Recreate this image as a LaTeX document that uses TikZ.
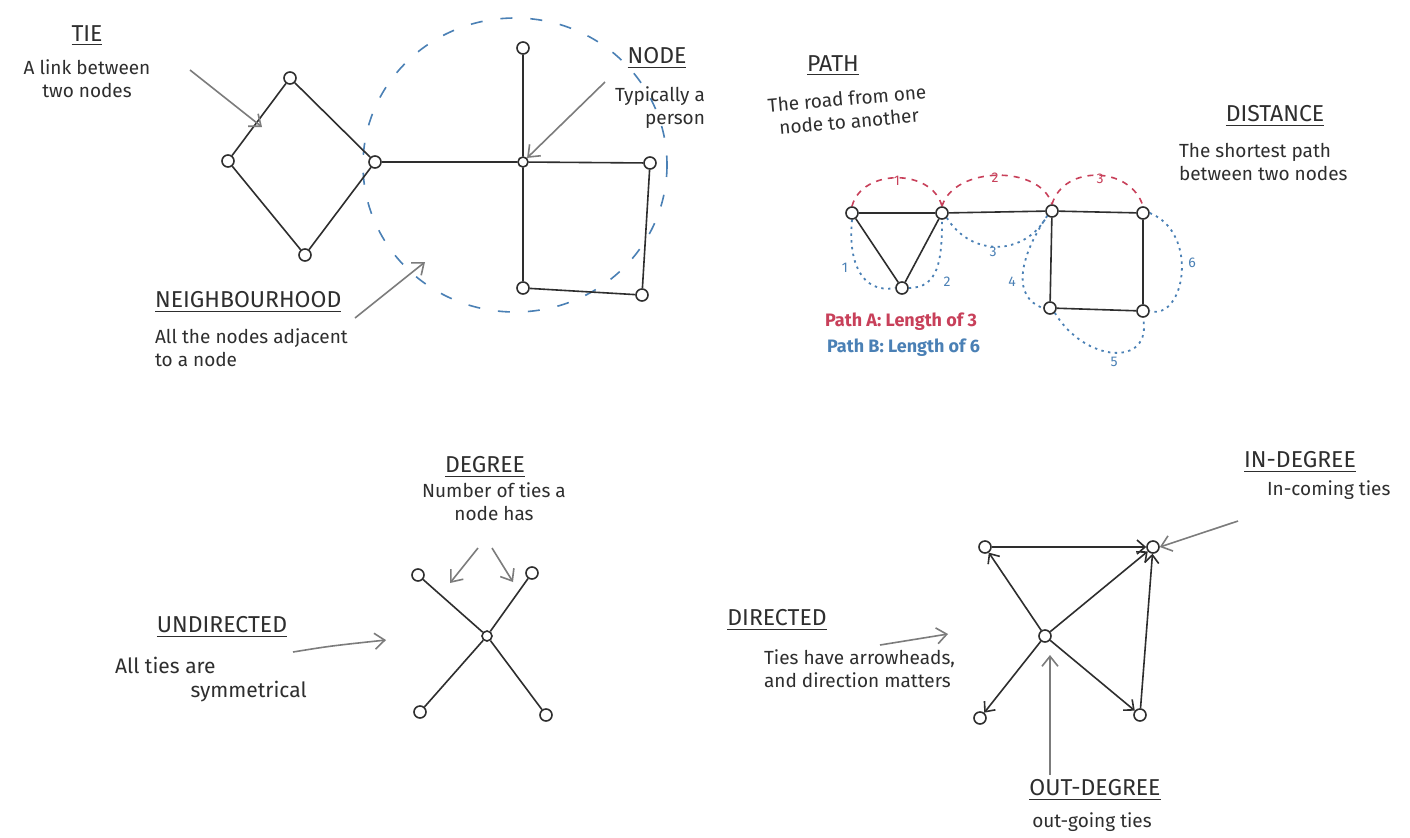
\documentclass[tikz,border=0pt]{standalone}
\usepackage{fontspec}
\setmainfont{Fira Sans}
\usetikzlibrary{arrows.meta,positioning}
\definecolor{tinta}{HTML}{2E2E2E}
\definecolor{gris}{HTML}{7C7C7C}
\definecolor{rojo}{HTML}{C8405A}
\definecolor{azul}{HTML}{4A80B5}
\tikzset{
  vtx/.style={circle, draw=tinta, fill=white, inner sep=0pt, minimum size=6pt, line width=0.8pt},
  ttl/.style={font=\fontsize{11.5}{13}\selectfont, text=tinta},
  desc/.style={font=\fontsize{9.5}{11.5}\selectfont, text=tinta},
  num/.style={font=\fontsize{7}{8}\selectfont, inner sep=1pt},
  flecha/.style={draw=gris, line width=0.8pt, -{Straight Barb[length=5pt,width=8pt]}},
  dirig/.style={draw=tinta, line width=0.8pt, -{Straight Barb[length=4pt,width=7pt]}},
  lazo/.style={draw=tinta, line width=0.8pt},
  puntos/.style={azul, line width=0.9pt, dash pattern=on 1.2pt off 2.2pt},
}
\begin{document}
\begin{tikzpicture}[x=0.5pt, y=-0.5pt]
  \useasboundingbox[fill=white] (0,0) rectangle (1410,837);

  % Vecindario (elipse discontinua)
  \draw[azul, line width=0.8pt, dash pattern=on 6pt off 9pt] (515,165) ellipse [x radius=152, y radius=147];

  % Red de arriba a la izquierda
  \node[vtx] (t) at (290,78) {};
  \node[vtx] (l) at (228,161) {};
  \node[vtx] (b) at (305,255) {};
  \node[vtx] (r) at (375,162) {};
  \node[vtx, minimum size=5pt] (c) at (523,162) {};
  \node[vtx] (ct) at (523,48) {};
  \node[vtx] (cr) at (650,163) {};
  \node[vtx] (cb) at (523,288) {};
  \node[vtx] (cbr) at (642,295) {};
  \draw[lazo] (t) -- (l) -- (b) -- (r) -- (t);
  \draw[lazo] (r) -- (c) -- (cr) -- (cbr) -- (cb) -- (c) -- (ct);

  % Etiquetas TIE, NODE, NEIGHBOURHOOD
  \node[ttl] (tie) at (87,36) {\underline{TIE}};
  \node[desc, align=center, below=0pt of tie] (tiedesc) {A link between\\two nodes};
  \node[ttl] (nodo) at (657,58) {\underline{NODE}};
  \node[desc, align=right, anchor=north east] (nododesc) at (712,80) {Typically a\\person};
  \node[ttl, anchor=west] (vec) at (148,302) {\underline{NEIGHBOURHOOD}};
  \node[desc, align=left, anchor=north west] (vecdesc) at (148,322) {All the nodes adjacent\\to a node};

  \coordinate (tieA) at (190,70);
  \coordinate (tieB) at (262,127);
  \coordinate (nodoA) at (605,82);
  \coordinate (vecA) at (355,318);
  \coordinate (vecB) at (425,262);
  \draw[flecha] (tieA) -- (tieB);
  \draw[flecha] (nodoA) -- (c.north east);
  \draw[flecha] (vecA) -- (vecB);

  % Camino y distancia
  \node[vtx] (pa) at (852,213) {};
  \node[vtx] (pb) at (942,213) {};
  \node[vtx] (pc) at (1052,211) {};
  \node[vtx] (pd) at (1143,213) {};
  \node[vtx] (pe) at (902,288) {};
  \node[vtx] (pf) at (1050,308) {};
  \node[vtx] (pg) at (1143,311) {};
  \draw[lazo] (pa) -- (pb) -- (pe) -- (pa);
  \draw[lazo] (pb) -- (pc) -- (pd) -- (pg) -- (pf) -- (pc);

  % Camino A (rojo)
  \draw[rojo, line width=0.8pt, dashed] (pa.north) .. controls +(10,-38) and +(-10,-38) .. (pb.north);
  \draw[rojo, line width=0.8pt, dashed] (pb.north) .. controls +(12,-40) and +(-12,-40) .. (pc.north);
  \draw[rojo, line width=0.8pt, dashed] (pc.north) .. controls +(12,-40) and +(-12,-40) .. (pd.north);
  \node[num, rojo] (ra1) at (897,181) {1};
  \node[num, rojo] (ra2) at (995,178) {2};
  \node[num, rojo] (ra3) at (1100,179) {3};

  % Camino B (azul)
  \draw[puntos] (pa.south) .. controls +(-4,40) and +(-35,6) .. (pe.west);
  \draw[puntos] (pe.east) .. controls +(30,0) and +(0,40) .. (pb.south);
  \draw[puntos] (pb.south east) .. controls +(25,40) and +(-22,40) .. (pc.south west);
  \draw[puntos] (pc.south west) .. controls +(-30,45) and +(-30,-10) .. (pf.west);
  \draw[puntos] (pf.south east) .. controls +(30,50) and +(10,50) .. (pg.south);
  \draw[puntos] (pd.east) .. controls +(50,20) and +(35,10) .. (pg.east);
  \node[num, azul] (rb1) at (845,268) {1};
  \node[num, azul] (rb2) at (947,282) {2};
  \node[num, azul] (rb3) at (993,252) {3};
  \node[num, azul] (rb4) at (1012,282) {4};
  \node[num, azul] (rb5) at (1114,362) {5};
  \node[num, azul] (rb6) at (1192,263) {6};

  \node[ttl] (camino) at (833,66) {\underline{PATH}};
  \node[desc, align=center, rotate=5] (caminodesc) at (848,110) {The road from one\\node to another};
  \node[ttl] (dist) at (1275,116) {\underline{DISTANCE}};
  \node[desc, align=left, anchor=north west] (distdesc) at (1172,136) {The shortest path\\between two nodes};
  \node[desc, anchor=west, rojo, font=\fontsize{9}{11}\selectfont\bfseries] (pathA) at (818,322) {Path A: Length of 3};
  \node[desc, anchor=west, azul, font=\fontsize{9}{11}\selectfont\bfseries] (pathB) at (820,348) {Path B: Length of 6};

  % Grado (no dirigido)
  \node[vtx, minimum size=5pt] (x) at (487,636) {};
  \node[vtx] (x1) at (418,575) {};
  \node[vtx] (x2) at (532,573) {};
  \node[vtx] (x3) at (420,712) {};
  \node[vtx] (x4) at (546,715) {};
  \foreach \v in {x1,x2,x3,x4}
    \draw[lazo] (x) -- (\v);

  \node[ttl] (grado) at (485,467) {\underline{DEGREE}};
  \node[desc, align=center] (gradodesc) at (494,502) {Number of ties a\\node has};
  \coordinate (gA) at (478,548);
  \coordinate (gB) at (492,548);
  \coordinate (gC) at (450,583);
  \coordinate (gD) at (513,582);
  \draw[flecha] (gA) -- (gC);
  \draw[flecha] (gB) -- (gD);

  \node[ttl] (nodir) at (222,627) {\underline{UNDIRECTED}};
  \node[desc, align=left, anchor=north west, font=\fontsize{10.5}{12}\selectfont] (nodirdesc) at (108,650) {All ties are\\\hspace*{3.6em}symmetrical};
  \coordinate (ndA) at (293,652);
  \coordinate (ndB) at (386,640);
  \draw[flecha] (ndA) .. controls (330,646) .. (ndB);

  % Red dirigida
  \node[vtx] (d1) at (985,547) {};
  \node[vtx] (d2) at (1153,547) {};
  \node[vtx] (d0) at (1045,636) {};
  \node[vtx] (d3) at (980,718) {};
  \node[vtx] (d4) at (1140,715) {};
  \draw[dirig] (d1) -- (d2);
  \draw[dirig] (d4) -- (d2);
  \foreach \v in {d1,d2,d3,d4}
    \draw[dirig] (d0) -- (\v);

  \node[ttl] (dir) at (777,620) {\underline{DIRECTED}};
  \node[desc, align=left, anchor=north west] (dirdesc) at (757,643) {Ties have arrowheads,\\and direction matters};
  \coordinate (dA) at (880,645);
  \coordinate (dB) at (948,634);
  \draw[flecha] (dA) -- (dB);

  \node[ttl] (entra) at (1300,462) {\underline{IN-DEGREE}};
  \node[desc, anchor=west] (entradesc) at (1260,490) {In-coming ties};
  \coordinate (eA) at (1238,521);
  \draw[flecha] (eA) -- (d2.east);

  \node[ttl] (sale) at (1095,790) {\underline{OUT-DEGREE}};
  \node[desc] (saledesc) at (1092,822) {out-going ties};
  \coordinate (sA) at (1050,775);
  \coordinate (sB) at (1050,655);
  \draw[flecha] (sA) -- (sB);
\end{tikzpicture}
\end{document}
